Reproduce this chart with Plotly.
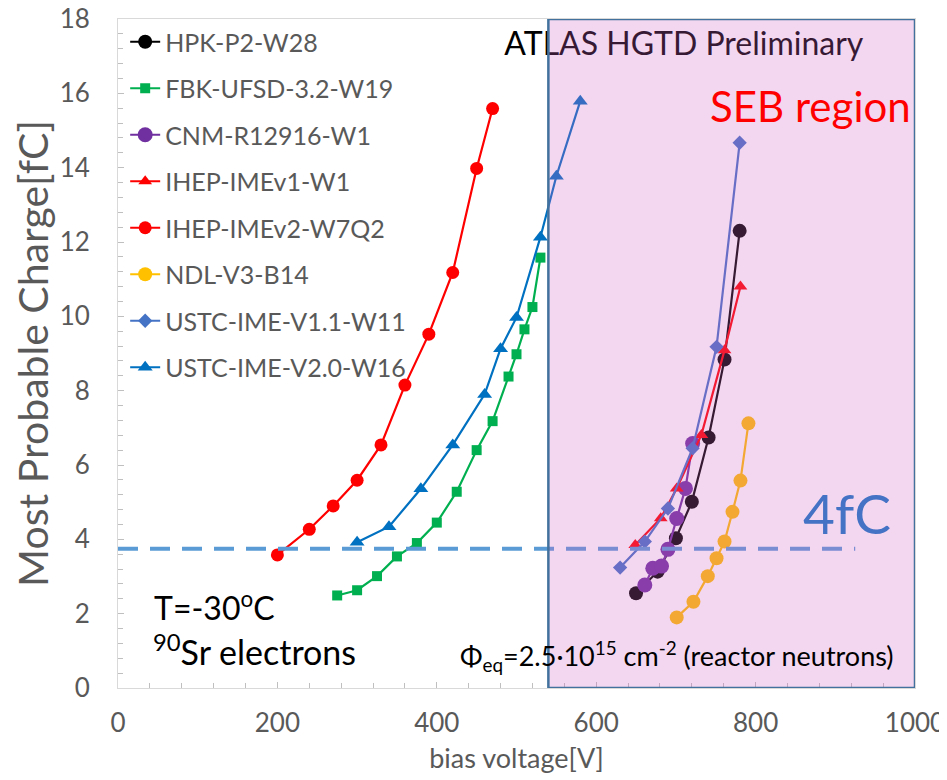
import plotly.graph_objects as go

# ---- data ----
hpk_v = [650, 677, 700, 720, 741, 761, 780]
hpk_q = [2.55, 3.13, 4.03, 5.01, 6.74, 8.84, 12.3]

fbk_v = [275, 300, 325, 350, 375, 400, 425, 450, 470, 490, 500, 510, 520, 530]
fbk_q = [2.49, 2.63, 3.01, 3.54, 3.90, 4.45, 5.28, 6.40, 7.18, 8.38, 8.98, 9.65, 10.25, 11.58]

cnm_v = [661, 671, 682, 690, 701, 712, 721]
cnm_q = [2.77, 3.22, 3.28, 3.73, 4.56, 5.37, 6.58]

ihep1_v = [649, 681, 701, 732, 761, 781]
ihep1_q = [3.85, 4.57, 5.37, 6.81, 9.09, 10.8]

ihep2_v = [200, 240, 270, 300, 330, 360, 390, 420, 450, 470]
ihep2_q = [3.58, 4.27, 4.90, 5.59, 6.54, 8.15, 9.52, 11.18, 13.98, 15.59]

ndl_v = [701, 722, 740, 751, 761, 771, 781, 791]
ndl_q = [1.90, 2.32, 3.01, 3.49, 3.94, 4.74, 5.58, 7.12]

ustc11_v = [630, 661, 690, 721, 751, 780]
ustc11_q = [3.24, 3.94, 4.83, 6.45, 9.18, 14.67]

ustc20_v = [300, 340, 380, 420, 460, 480, 500, 530, 550, 580]
ustc20_q = [3.92, 4.34, 5.36, 6.54, 7.90, 9.13, 9.97, 12.13, 13.77, 15.79]

threshold_q = 3.75
seb_v = [540, 1000]

FONT = "Lato"
GRAY = "#595959"

fig = go.Figure()

series = [
    ("HPK-P2-W28", hpk_v, hpk_q, "#000000", "circle", 14),
    ("FBK-UFSD-3.2-W19", fbk_v, fbk_q, "#00b050", "square", 10),
    ("CNM-R12916-W1", cnm_v, cnm_q, "#7030a0", "circle", 15),
    ("IHEP-IMEv1-W1", ihep1_v, ihep1_q, "#ff0000", "triangle-up", 12),
    ("IHEP-IMEv2-W7Q2", ihep2_v, ihep2_q, "#ff0000", "circle", 13),
    ("NDL-V3-B14", ndl_v, ndl_q, "#ffc000", "circle", 14),
    ("USTC-IME-V1.1-W11", ustc11_v, ustc11_q, "#4472c4", "diamond", 11),
    ("USTC-IME-V2.0-W16", ustc20_v, ustc20_q, "#0070c0", "triangle-up", 13),
]

for i, (name, xv, yv, col, sym, sz) in enumerate(series):
    fig.add_trace(go.Scatter(
        x=xv, y=yv, name=name, mode="lines+markers",
        line=dict(color=col, width=2.2),
        marker=dict(color=col, symbol=sym, size=sz),
        legendgroup=f"g{i}",
    ))

# text under the SEB overlay
fig.add_trace(go.Scatter(
    x=[710], y=[17.25], mode="text", text=["ATLAS HGTD Preliminary"],
    textfont=dict(family=FONT, size=32, color="#000000"),
    showlegend=False, hoverinfo="skip", cliponaxis=False,
))

# threshold dashed line
fig.add_shape(type="line", xref="x", yref="y", x0=0, x1=925,
              y0=threshold_q, y1=threshold_q, layer="above",
              line=dict(color="#5b9bd5", width=4, dash="20px,12px"))
# SEB region overlay
fig.add_shape(type="rect", xref="x", yref="y", x0=seb_v[0], x1=seb_v[1],
              y0=0, y1=18, layer="above",
              fillcolor="rgba(210,100,200,0.26)",
              line=dict(color="#41719c", width=2.5))

anns = [
    dict(x=973, y=4.72, text="4fC", xanchor="right",
         font=dict(size=55, color="#4472c4")),
    dict(x=998, y=15.65, text="SEB region", xanchor="right",
         font=dict(size=42, color="#ff0000")),
    dict(x=43, y=2.2, text="T=-30<sup>o</sup>C", xanchor="left",
         font=dict(size=32, color="#000000")),
    dict(x=42, y=1.02, text="<sup>90</sup>Sr electrons", xanchor="left",
         font=dict(size=34, color="#000000")),
    dict(x=426, y=0.85,
         text="Φ<sub>eq</sub>=2.5·10<sup>15</sup> cm<sup>-2</sup> (reactor neutrons)",
         xanchor="left", font=dict(size=27, color="#000000")),
]
for a in anns:
    a.update(xref="x", yref="y", showarrow=False)
    a["font"]["family"] = FONT
    fig.add_annotation(**a)

axis_common = dict(
    showgrid=False, zeroline=False, showline=True, linecolor="#d9d9d9",
    linewidth=1, mirror=True, ticks="inside", ticklen=6, tickcolor="#bfbfbf",
    tickfont=dict(family=FONT, size=26, color=GRAY), automargin=False,
    ticklabeloverflow="allow",
)

fig.update_xaxes(
    range=[0, 1000], dtick=200, tick0=0,
    minor=dict(ticks="inside", dtick=40, ticklen=5, tickcolor="#bfbfbf"),
    title=dict(text="bias voltage[V]", font=dict(family=FONT, size=27, color=GRAY),
               standoff=11),
    ticklabelstandoff=12,
    **axis_common,
)
fig.update_yaxes(
    range=[0, 18], dtick=2, tick0=0,
    minor=dict(ticks="inside", dtick=0.4, ticklen=5, tickcolor="#bfbfbf"),
    title=dict(text="Most Probable Charge[fC]",
               font=dict(family=FONT, size=41, color=GRAY), standoff=4),
    ticklabelstandoff=22,
    **axis_common,
)

# page body adds an 8px offset; figure sized to fit the 947x780 window
fig.update_layout(
    width=939, height=772, autosize=False,
    margin=dict(l=110, r=32, t=11, b=92),
    paper_bgcolor="white", plot_bgcolor="white",
    font=dict(family=FONT, color=GRAY),
    legend=dict(x=0.009, y=1.0, xanchor="left", yanchor="top",
                bgcolor="rgba(0,0,0,0)", tracegroupgap=11,
                font=dict(family=FONT, size=25, color=GRAY)),
)

fig.write_html("out.html")
